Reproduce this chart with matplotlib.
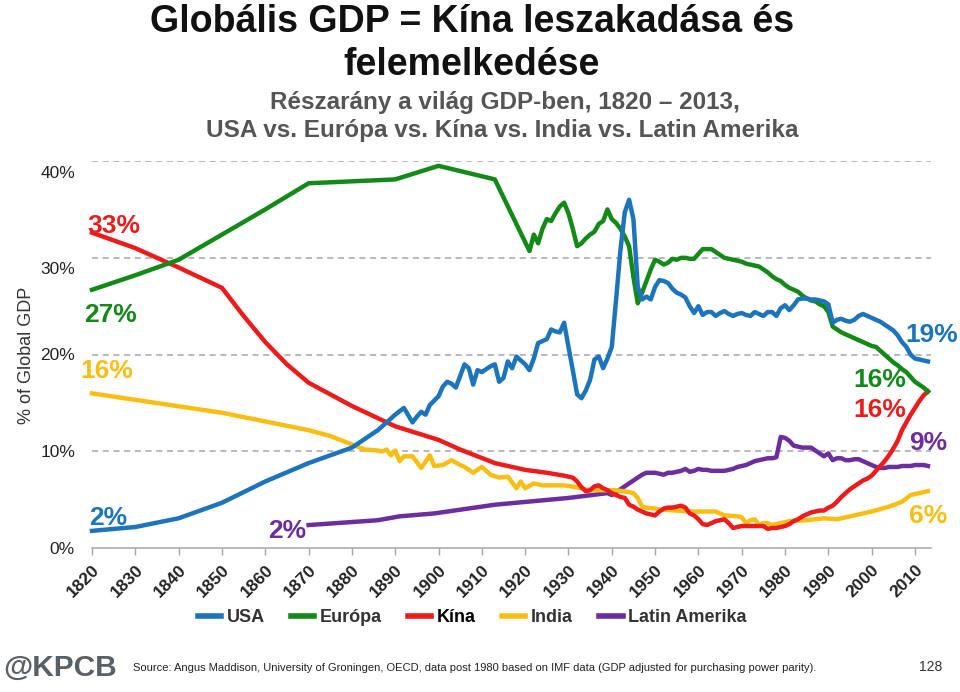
import matplotlib
matplotlib.use("Agg")
import matplotlib.pyplot as plt
from matplotlib.transforms import blended_transform_factory, ScaledTranslation

# adatok: részarány a világ GDP-ben (%)
usa_years = [1820, 1830, 1840, 1850, 1860, 1870, 1880, 1884, 1886, 1888, 1890, 1892, 1894, 1895,
             1896, 1897, 1898, 1900, 1901, 1902, 1903, 1904, 1905, 1906, 1907, 1908, 1909, 1910,
             1911, 1912, 1913, 1914, 1915, 1916, 1917, 1918, 1919, 1920, 1921, 1922, 1923, 1924,
             1925, 1926, 1927, 1928, 1929, 1930, 1931, 1932, 1933, 1934, 1935, 1936, 1937, 1938,
             1939, 1940, 1941, 1942, 1943, 1944, 1945, 1946, 1947, 1948, 1949, 1950, 1951, 1952,
             1953, 1954, 1955, 1956, 1957, 1958, 1959, 1960, 1961, 1962, 1963, 1964, 1965, 1966,
             1967, 1968, 1969, 1970, 1971, 1972, 1973, 1974, 1975, 1976, 1977, 1978, 1979, 1980,
             1981, 1982, 1983, 1984, 1985, 1986, 1987, 1988, 1989, 1990, 1991, 1992, 1993, 1994,
             1995, 1996, 1997, 1998, 1999, 2000, 2001, 2002, 2003, 2004, 2005, 2006, 2007, 2008,
             2009, 2010, 2011, 2012, 2013]
usa_share = [1.8, 2.2, 3.1, 4.7, 6.9, 8.8, 10.4, 11.6, 12.2, 13.0, 13.8, 14.5, 13.0, 13.6,
             14.1, 13.8, 14.8, 15.7, 16.7, 17.2, 17.0, 16.6, 17.8, 19.0, 18.6, 16.9, 18.4, 18.2,
             18.5, 18.8, 19.0, 17.2, 17.6, 19.3, 18.6, 19.8, 19.4, 19.0, 18.4, 19.6, 21.2, 21.4,
             21.6, 22.6, 22.4, 22.3, 23.3, 20.8, 18.4, 15.9, 15.5, 16.3, 17.4, 19.5, 19.8, 18.6,
             19.6, 20.8, 25.7, 30.8, 34.7, 36.0, 34.0, 27.0, 25.7, 26.0, 25.7, 27.0, 27.7, 27.6,
             27.4, 26.8, 26.4, 26.2, 25.9, 25.0, 24.3, 25.0, 24.1, 24.4, 24.4, 24.0, 24.3, 24.5,
             24.2, 24.0, 24.2, 24.3, 24.1, 24.0, 24.4, 24.2, 24.0, 24.4, 24.4, 24.0, 24.8, 25.1,
             24.6, 25.1, 25.7, 25.8, 25.8, 25.7, 25.7, 25.6, 25.5, 25.2, 23.3, 23.6, 23.7, 23.5,
             23.4, 23.6, 24.0, 24.2, 24.0, 23.8, 23.6, 23.4, 23.1, 22.8, 22.5, 22.0, 21.3, 20.8,
             20.0, 19.6, 19.5, 19.4, 19.3]

eur_years = [1820, 1830, 1840, 1850, 1860, 1870, 1880, 1890, 1900, 1913, 1921, 1922, 1923, 1924,
             1925, 1926, 1927, 1928, 1929, 1930, 1931, 1932, 1933, 1934, 1935, 1936, 1937, 1938,
             1939, 1940, 1941, 1942, 1943, 1944, 1945, 1946, 1947, 1948, 1949, 1950, 1951, 1952,
             1953, 1954, 1955, 1956, 1957, 1958, 1959, 1960, 1961, 1962, 1963, 1964, 1965, 1966,
             1967, 1968, 1969, 1970, 1971, 1972, 1973, 1974, 1975, 1976, 1977, 1978, 1979, 1980,
             1981, 1982, 1983, 1984, 1985, 1986, 1987, 1988, 1989, 1990, 1991, 1992, 1993, 1994,
             1995, 1996, 1997, 1998, 1999, 2000, 2001, 2002, 2003, 2004, 2005, 2006, 2007, 2008,
             2009, 2010, 2011, 2012, 2013]
eur_share = [26.7, 28.2, 29.8, 32.4, 35.0, 37.7, 37.9, 38.1, 39.5, 38.1, 30.7, 32.4, 31.5, 33.0,
             34.0, 33.8, 34.6, 35.3, 35.7, 34.6, 33.0, 31.2, 31.5, 32.0, 32.4, 32.7, 33.5, 33.8,
             35.0, 34.0, 33.6, 33.0, 32.2, 31.2, 28.0, 25.3, 26.4, 27.6, 28.8, 29.8, 29.6, 29.3,
             29.5, 29.9, 29.8, 30.0, 30.0, 29.9, 29.9, 30.4, 30.9, 30.9, 30.9, 30.6, 30.3, 30.0,
             29.9, 29.8, 29.7, 29.6, 29.4, 29.3, 29.2, 29.1, 28.8, 28.5, 28.1, 27.8, 27.6, 27.2,
             26.9, 26.7, 26.5, 26.1, 25.8, 25.6, 25.5, 25.2, 25.0, 24.4, 22.9, 22.6, 22.3, 22.1,
             21.9, 21.7, 21.5, 21.3, 21.1, 20.9, 20.8, 20.4, 20.0, 19.6, 19.2, 18.9, 18.5, 18.2,
             17.7, 17.2, 16.9, 16.6, 16.2]

chn_years = [1820, 1830, 1840, 1850, 1855, 1860, 1865, 1870, 1880, 1890, 1900, 1905, 1913, 1920,
             1925, 1929, 1931, 1932, 1933, 1934, 1935, 1936, 1937, 1938, 1939, 1940, 1941, 1942,
             1943, 1944, 1945, 1946, 1947, 1948, 1949, 1950, 1951, 1952, 1953, 1954, 1955, 1956,
             1957, 1958, 1959, 1960, 1961, 1962, 1963, 1964, 1965, 1966, 1967, 1968, 1969, 1970,
             1971, 1972, 1973, 1974, 1975, 1976, 1977, 1978, 1979, 1980, 1981, 1982, 1983, 1984,
             1985, 1986, 1987, 1988, 1989, 1990, 1991, 1992, 1993, 1994, 1995, 1996, 1997, 1998,
             1999, 2000, 2001, 2002, 2003, 2004, 2005, 2006, 2007, 2008, 2009, 2010, 2011, 2012,
             2013]
chn_share = [32.6, 31.0, 29.0, 26.9, 24.0, 21.3, 19.0, 17.1, 14.7, 12.6, 11.2, 10.2, 8.8, 8.1,
             7.8, 7.5, 7.3, 6.9, 6.3, 5.9, 6.0, 6.4, 6.5, 6.2, 6.0, 5.7, 5.5, 5.3,
             5.2, 4.5, 4.3, 4.0, 3.8, 3.6, 3.5, 3.4, 3.8, 4.1, 4.2, 4.2, 4.3, 4.4,
             4.2, 3.6, 3.4, 3.0, 2.5, 2.4, 2.6, 2.8, 2.9, 3.0, 2.6, 2.1, 2.2, 2.3,
             2.3, 2.3, 2.3, 2.3, 2.3, 2.0, 2.1, 2.1, 2.2, 2.3, 2.5, 2.8, 3.0, 3.3,
             3.5, 3.7, 3.8, 3.9, 3.9, 4.2, 4.4, 4.8, 5.3, 5.7, 6.1, 6.4, 6.7, 7.0,
             7.2, 7.5, 8.0, 8.5, 9.0, 9.6, 10.3, 11.1, 12.2, 13.0, 13.8, 14.5, 15.2, 15.8,
             16.2]

ind_years = [1820, 1850, 1870, 1875, 1879, 1883, 1886, 1887, 1888, 1889, 1890, 1891, 1892, 1894,
             1896, 1898, 1899, 1901, 1903, 1905, 1906, 1908, 1910, 1912, 1914, 1916, 1918, 1919,
             1920, 1922, 1924, 1926, 1929, 1932, 1935, 1938, 1941, 1944, 1945, 1946, 1947, 1948,
             1950, 1951, 1955, 1958, 1964, 1966, 1969, 1970, 1971, 1972, 1973, 1974, 1975, 1976,
             1977, 1978, 1979, 1981, 1985, 1989, 1992, 1996, 2000, 2004, 2007, 2009, 2011, 2013]
ind_share = [16.0, 14.0, 12.2, 11.6, 10.9, 10.2, 10.1, 10.0, 10.2, 9.6, 10.1, 9.0, 9.5, 9.5,
             8.3, 9.6, 8.5, 8.6, 9.1, 8.6, 8.4, 7.8, 8.4, 7.6, 7.3, 7.4, 6.2, 6.9,
             6.2, 6.7, 6.5, 6.5, 6.5, 6.3, 6.0, 6.0, 6.0, 5.8, 5.7, 5.2, 4.3, 4.2,
             4.1, 4.0, 3.9, 3.8, 3.8, 3.4, 3.3, 3.2, 2.6, 2.9, 3.0, 2.4, 2.6, 2.6,
             2.4, 2.5, 2.6, 2.8, 2.9, 3.1, 3.0, 3.4, 3.8, 4.3, 4.8, 5.5, 5.7, 5.9]

lat_years = [1870, 1886, 1891, 1899, 1913, 1930, 1939, 1940, 1941, 1942, 1943, 1944, 1945, 1946,
             1947, 1948, 1949, 1950, 1951, 1952, 1953, 1954, 1955, 1956, 1957, 1958, 1959, 1960,
             1961, 1962, 1963, 1964, 1965, 1966, 1967, 1968, 1969, 1970, 1971, 1972, 1973, 1974,
             1975, 1976, 1977, 1978, 1979, 1980, 1981, 1982, 1983, 1984, 1985, 1986, 1987, 1988,
             1989, 1990, 1991, 1992, 1993, 1994, 1995, 1996, 1997, 1998, 1999, 2000, 2001, 2002,
             2003, 2004, 2005, 2006, 2007, 2008, 2009, 2010, 2011, 2012, 2013]
lat_share = [2.4, 2.9, 3.3, 3.6, 4.5, 5.2, 5.7, 5.5, 5.8, 6.1, 6.4, 6.7, 7.0, 7.3,
             7.6, 7.8, 7.8, 7.8, 7.7, 7.6, 7.8, 7.8, 7.9, 8.0, 8.2, 7.9, 8.0, 8.2,
             8.1, 8.1, 8.0, 8.0, 8.0, 8.0, 8.1, 8.2, 8.4, 8.5, 8.6, 8.8, 9.0, 9.1,
             9.2, 9.3, 9.3, 9.4, 11.5, 11.4, 11.1, 10.6, 10.5, 10.4, 10.4, 10.4, 10.1, 9.8,
             9.5, 9.8, 9.1, 9.3, 9.3, 9.1, 9.1, 9.2, 9.2, 9.0, 8.8, 8.6, 8.4, 8.3,
             8.3, 8.4, 8.4, 8.4, 8.5, 8.5, 8.5, 8.6, 8.6, 8.6, 8.5]

series_names = ["USA", "Európa", "Kína", "India", "Latin Amerika"]
colors = ["#1C74BC", "#138A18", "#EC1C1C", "#F9BE14", "#6C2E9E"]
decades = list(range(1820, 2011, 10))
y_ticks = [0, 10, 20, 30, 40]

plt.rcParams["font.family"] = ["Liberation Sans", "DejaVu Sans"]

W, H = 960, 692
fig = plt.figure(figsize=(W / 100, H / 100), dpi=100)


def px(x, y):
    return x / W, 1 - y / H


ax = fig.add_axes([92 / W, 1 - 548.3 / H, (931 - 92) / W, (548.3 - 161) / H])

data = [(usa_years, usa_share), (eur_years, eur_share), (chn_years, chn_share),
        (ind_years, ind_share), (lat_years, lat_share)]
# rajzolási sorrend: Latin Amerika alul, USA felül
for i in [4, 3, 2, 1, 0]:
    yrs, vals = data[i]
    ax.plot(yrs, vals, color=colors[i], lw=3.2, label=series_names[i],
            solid_joinstyle="round", zorder=3 + (4 - i), clip_on=False)

ax.set_xlim(1820, 2013.7)
ax.set_ylim(0, 40)
ax.set_yticks(y_ticks)
ax.set_yticklabels([])
ax.tick_params(axis="y", length=0)
for t in y_ticks[1:]:
    ax.axhline(t, color="#a6a6a6", lw=1.1, ls=(0, (4, 3)), zorder=1)

# y feliratok: a felső kettő kissé lejjebb csúszott, mint az eredetin
ytrans = blended_transform_factory(fig.transFigure, ax.transData)
for t in y_ticks:
    shift = -12 / 100 if t >= 30 else -1 / 100
    fig.text(75 / W, t, f"{t}%", fontsize=12.5, color="#222222", ha="right", va="center",
             transform=ytrans + ScaledTranslation(0, shift, fig.dpi_scale_trans))

ax.set_xticks(decades)
ax.set_xticklabels([str(d) for d in decades], rotation=45, fontsize=12.5,
                   fontweight="bold", color="#222222", ha="right", va="top",
                   rotation_mode="anchor")
ax.tick_params(axis="x", length=5, width=1, color="#a6a6a6", pad=5)

for s in ["top", "right", "left"]:
    ax.spines[s].set_visible(False)
ax.spines["bottom"].set_color("#a6a6a6")
ax.spines["bottom"].set_linewidth(1.1)

fig.text(*px(27, 355), "% of Global GDP", rotation=90, fontsize=13,
         color="#333333", ha="center", va="center")

# cím
fig.text(*px(472, 22), "Globális GDP = Kína leszakadása és", fontsize=27,
         fontweight="bold", ha="center", va="center", color="#111111")
fig.text(*px(472, 65), "felemelkedése", fontsize=27, fontweight="bold",
         ha="center", va="center", color="#111111")
fig.text(*px(505, 103), "Részarány a világ GDP-ben, 1820 – 2013,", fontsize=17.5,
         fontweight="bold", ha="center", va="center", color="#555555")
fig.text(*px(502, 131), "USA vs. Európa vs. Kína vs. India vs. Latin Amerika", fontsize=17.5,
         fontweight="bold", ha="center", va="center", color="#555555")

# végértékek feliratai
labels = [
    (87, 226, "33%", 2), (84, 315, "27%", 1), (80, 371, "16%", 3), (89, 518, "2%", 0),
    (268, 531, "2%", 4), (905, 335, "19%", 0), (853, 380, "16%", 1), (853, 410, "16%", 2),
    (909, 443, "9%", 4), (909, 516, "6%", 3),
]
for x, y, txt, ci in labels:
    fig.text(*px(x, y), txt, fontsize=19, fontweight="bold", color=colors[ci],
             ha="left", va="center", zorder=10)

handles, lbls = ax.get_legend_handles_labels()
order = [series_names.index(n) for n in lbls]
hl = sorted(zip(order, handles, lbls))
leg = fig.legend([h for _, h, _ in hl], [l for _, _, l in hl], loc="center",
                 bbox_to_anchor=px(472, 618), ncol=5, frameon=False,
                 prop={"size": 13, "weight": "bold"}, handlelength=1.3,
                 handletextpad=0.3, columnspacing=1.45)
for line in leg.get_lines():
    line.set_linewidth(4)
for txt in leg.get_texts():
    txt.set_color("#000000" if txt.get_text() == "Kína" else "#333333")

fig.text(*px(3, 668), "@KPCB", fontsize=21.5, fontweight="bold",
         color="#596166", ha="left", va="center")
fig.text(*px(133, 668), "Source: Angus Maddison, University of Groningen, OECD, data post 1980 "
         "based on IMF data (GDP adjusted for purchasing power parity).",
         fontsize=8, color="#222222", ha="left", va="center")
fig.text(*px(942, 667), "128", fontsize=10, color="#333333",
         ha="right", va="center")

fig.savefig("out.png", dpi=100)
